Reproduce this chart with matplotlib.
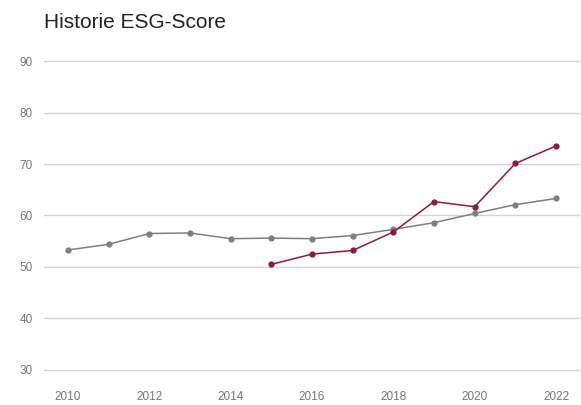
import matplotlib
matplotlib.use("Agg")
import matplotlib.pyplot as plt

plt.rcParams['font.family'] = ['Liberation Sans', 'DejaVu Sans']

years = [2010, 2011, 2012, 2013, 2014, 2015, 2016, 2017, 2018, 2019, 2020, 2021, 2022]
sector_score = [53.3, 54.4, 56.5, 56.6, 55.5, 55.6, 55.5, 56.1, 57.3, 58.6, 60.4, 62.1, 63.3]
company_years = [2015, 2016, 2017, 2018, 2019, 2020, 2021, 2022]
company_score = [50.5, 52.5, 53.2, 56.8, 62.7, 61.7, 70.1, 73.5]
yticks = [30, 40, 50, 60, 70, 80, 90]
xticks = [2010, 2012, 2014, 2016, 2018, 2020, 2022]

fig = plt.figure(figsize=(5.81, 4.05), dpi=100)
ax = fig.add_axes([44 / 581, 1 - 372 / 405, 536 / 581, 312 / 405])

ax.plot(years, sector_score, '-', color='#7f7f7f', lw=1.1, marker='o', ms=3.5, zorder=3)
ax.plot(company_years, company_score, '-', color='#8c1c42', lw=1.1, marker='o', ms=3.5, zorder=4)

ax.set_xlim(2009.41, 2022.59)
ax.set_ylim(29.6, 90.2)
ax.set_yticks(yticks)
ax.set_xticks(xticks)
ax.grid(axis='y', color='#d4d4d4', lw=1)
ax.set_axisbelow(True)
for s in ax.spines.values():
    s.set_visible(False)
ax.tick_params(length=0, labelsize=8.5, labelcolor='#777777')
ax.tick_params(axis='y', pad=8)
ax.tick_params(axis='x', pad=14)

fig.text(44 / 581, 1 - 23 / 405, 'Historie ESG-Score', fontsize=15, color='#222222',
         va='center', ha='left')

fig.savefig('out.png', dpi=100)
